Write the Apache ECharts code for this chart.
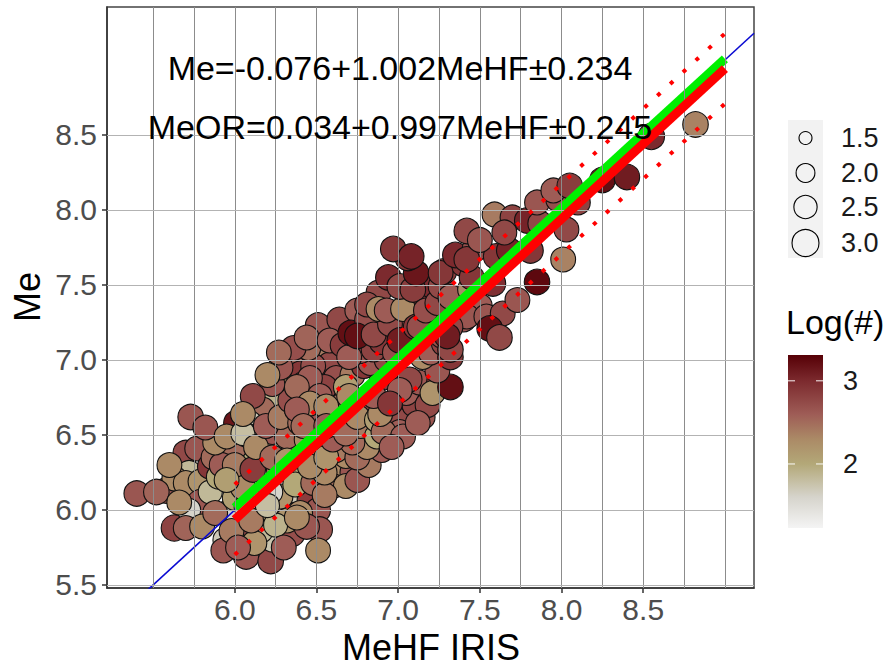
<!DOCTYPE html>
<html><head><meta charset="utf-8">
<script src="https://cdn.jsdelivr.net/npm/echarts@6/dist/echarts.min.js"></script>
<style>html,body{margin:0;padding:0;background:#fff}#c{width:893px;height:666px}</style>
</head><body><div id="c"></div>
<script>
// ---- axis ranges / ticks ----
const xRange = [5.218, 9.178];
const yRange = [5.48, 9.353];
const xTicks = [6.0, 6.5, 7.0, 7.5, 8.0, 8.5];
const yTicks = [5.5, 6.0, 6.5, 7.0, 7.5, 8.0, 8.5];
const xGrid = [5.5, 5.75, 6.0, 6.25, 6.5, 6.75, 7.0, 7.25, 7.5, 7.75, 8.0, 8.25, 8.5, 8.75, 9.0];
const yGrid = [5.5, 6.0, 6.5, 7.0, 7.5, 8.0, 8.5];
// ---- fits: [intercept, slope, sd] ----
const fitMe = [-0.076, 1.002, 0.234];
const fitMeOR = [0.034, 0.997, 0.245];
const fitX = [6.0, 9.0];
const eqTexts = ['Me=-0.076+1.002MeHF\u00b10.234', 'MeOR=0.034+0.997MeHF\u00b10.245'];
// ---- legends ----
const sizeBreaks = [1.5, 2.0, 2.5, 3.0];
const colorBreaks = [3, 2];
const colorLimits = [1.23, 3.31];
const colorStopVals = [1.23, 1.6, 2.0, 2.3, 2.6, 3.0, 3.31];
const colorStopCols = ['#f4f4f4', '#d6d4cc', '#b3a878', '#ab8a66', '#9e5c56', '#7c2a2e', '#560006'];
// ---- points: [MeHF, Me, log#, size] ----
const cloudLow = [
[5.40,6.11,2.65,2.8],[5.73,6.62,2.65,2.8],[5.58,6.13,2.65,2.8],[5.63,5.88,2.8,2.9],[5.70,6.38,2.75,2.8],
[5.77,6.41,2.65,2.7],[5.72,6.25,1.85,2.6],[5.63,6.21,2.3,2.7],[5.70,6.18,2.3,2.7],[5.79,6.19,2.2,2.7],
[5.79,6.05,2.65,2.9],[5.72,6.00,1.6,2.5],[5.70,5.88,2.55,2.7],[5.80,5.89,2.3,2.7],[5.85,6.29,2.9,2.8],
[5.93,6.47,2.3,2.7],[5.87,6.35,2.5,2.7],[6.01,6.19,2.1,2.7],[5.95,5.98,1.6,2.6],[5.94,5.80,1.7,2.6],
[5.93,5.73,2.65,2.7],[6.07,5.89,2.75,2.8],[6.07,5.69,2.65,2.8],[6.22,5.66,2.75,2.8],[6.23,5.80,1.75,2.6],
[6.16,5.86,1.85,2.6],[6.17,5.98,1.6,2.6],[6.30,5.98,1.6,2.6],[6.35,5.84,2.7,2.8],[6.40,6.11,1.7,2.6],
[6.46,6.07,2.85,2.8],[6.51,6.00,2.65,2.7],[6.52,5.87,2.65,2.8],[6.51,5.73,2.3,2.7],[6.32,5.93,2.2,2.7],
[6.40,6.25,2.0,2.7],[6.48,6.36,2.3,2.7],[6.60,6.25,2.3,2.7],[6.72,6.25,2.65,2.7],[6.68,6.36,2.3,2.7],
[5.52,6.12,2.55,2.8],[5.66,6.05,2.3,2.7],[5.60,6.30,2.3,2.7],[5.85,6.12,1.85,2.6],[5.90,6.22,2.0,2.6],
[5.98,6.35,2.65,2.8],[5.88,5.98,2.5,2.7],[6.00,6.08,2.1,2.7],[5.98,5.86,2.4,2.7],[6.12,5.78,2.2,2.7],
[6.02,5.75,2.6,2.7],[6.21,6.20,1.5,2.6],[6.30,6.20,1.6,2.6],[6.28,6.09,2.2,2.7],[6.13,6.09,1.85,2.6],
[6.15,6.00,2.0,2.6],[6.07,6.02,1.55,2.6],[6.40,5.98,2.3,2.7],[6.44,5.89,2.65,2.8],[6.60,6.16,2.5,2.7],
[6.68,6.16,2.3,2.7],[6.75,6.20,2.65,2.7],[6.82,6.30,2.4,2.7],[6.90,6.40,2.6,2.7],
[6.18,6.45,2.4,2.7],[6.26,6.43,1.8,2.7],[6.36,6.40,2.6,2.7],[6.09,6.33,2.0,2.7],[6.18,6.30,1.7,2.6],
[6.27,6.27,2.3,2.7],[6.37,6.17,2.0,2.7],[6.22,6.12,1.6,2.6],[6.05,6.15,2.3,2.7],[6.00,6.42,2.5,2.7],
[5.92,6.30,2.6,2.7],[6.48,6.18,2.5,2.7],[6.55,6.10,2.4,2.7],[6.25,5.90,1.9,2.6],[6.10,5.93,2.4,2.7],
[5.88,6.45,2.3,2.7],[5.82,6.55,2.65,2.7],[6.00,6.30,2.4,2.7],[5.95,6.20,2.1,2.7],[6.30,5.75,2.6,2.7],
[6.38,5.95,2.3,2.7],[6.20,6.03,1.8,2.6],[6.62,6.40,2.4,2.7],[6.75,6.35,2.5,2.7],[6.55,6.25,2.3,2.7],
[6.80,6.45,2.6,2.7]
];
const cloudMid = [
[6.64,6.51,2.3,2.7],[6.81,6.42,2.3,2.7],[6.88,6.62,1.9,2.7],[7.01,6.49,2.65,2.8],[6.95,6.69,2.75,2.7],
[7.09,6.80,2.3,2.7],[6.85,7.15,3.0,2.8],[6.77,7.18,3.15,2.8],[6.51,7.23,2.65,2.8],[6.56,7.09,2.4,2.7],
[6.35,7.00,2.55,2.7],[6.58,6.97,2.75,2.7],[6.40,6.91,2.9,2.7],[6.32,6.82,2.3,2.7],[6.23,6.73,1.9,2.7],
[6.17,6.67,2.5,2.7],[6.09,6.58,1.7,2.7],[6.01,6.58,3.15,2.8],[5.95,6.49,2.3,2.7],[6.07,6.50,1.55,2.6],
[6.23,6.52,2.65,2.7],[6.11,6.27,2.85,2.8],[6.32,6.49,2.5,2.7],[6.44,6.47,2.3,2.7],[6.52,6.67,2.65,2.7],
[6.60,6.75,2.3,2.7],[6.64,6.62,2.3,2.7],[6.72,6.45,2.5,2.7],[6.46,6.29,2.3,2.7],[6.56,6.35,2.2,2.7],
[6.05,6.51,1.8,2.6],[6.13,6.42,2.3,2.7],[6.23,6.35,2.5,2.7],[6.32,6.33,2.2,2.7],[6.19,6.56,2.6,2.7],
[6.28,6.62,2.4,2.7],[6.38,6.67,2.6,2.7],[6.44,6.76,2.3,2.7],[6.34,6.73,2.7,2.7],[6.40,6.58,2.5,2.7],
[6.50,6.51,2.2,2.7],[6.60,6.47,2.6,2.7],[6.77,6.56,2.4,2.7],[6.87,6.49,2.0,2.7],[6.93,6.56,2.6,2.7],
[6.23,6.84,2.65,2.7],[6.11,6.76,2.75,2.7],[6.05,6.64,2.3,2.7],[6.42,6.84,2.6,2.7],[6.48,6.96,2.7,2.7],
[6.62,6.88,2.7,2.7],[6.72,6.90,2.4,2.7],[6.66,6.70,2.5,2.7],[6.78,6.70,2.7,2.7],[6.55,6.82,2.8,2.7],
[6.90,6.88,2.85,2.7],[6.95,6.95,2.5,2.7],[6.64,7.27,2.75,2.7],[6.45,7.08,2.5,2.7],[6.75,7.33,2.6,2.7],
[6.28,6.95,2.65,2.7],[6.36,7.08,2.7,2.7],[6.27,7.05,2.5,2.7],[6.44,7.15,2.55,2.7],[6.20,6.90,2.3,2.7],
[6.68,6.82,2.1,2.7],[6.58,7.13,2.6,2.7],[6.46,6.88,2.6,2.7],[6.38,6.82,2.5,2.7],[6.52,6.76,2.6,2.7],
[6.46,6.71,2.3,2.7],[6.56,6.69,2.3,2.7],[6.70,6.76,2.3,2.7],[6.38,6.67,2.6,2.7],[6.42,6.56,2.5,2.7],
[6.56,6.56,2.6,2.7],[6.68,6.51,2.5,2.7],[6.75,6.62,2.3,2.7],[6.87,6.60,2.1,2.7],[6.79,6.96,2.9,2.7],
[6.99,6.60,2.75,2.7],[7.01,6.52,2.6,2.7],[6.91,6.52,2.5,2.7],[6.89,6.64,2.3,2.7],[6.85,6.76,2.6,2.7],
[7.15,6.62,2.65,2.7],[7.10,6.70,2.8,2.7],[7.03,6.49,2.6,2.7],[7.05,6.78,2.6,2.7],[7.13,6.85,2.65,2.7],
[7.18,6.70,2.75,2.7],[7.25,6.85,2.85,2.7],[7.12,6.58,2.6,2.7],[6.96,6.42,2.6,2.7],
[7.07,6.87,2.75,2.7],[7.01,6.80,2.6,2.7],[6.95,6.71,2.9,2.7],[7.21,6.78,2.2,2.7],[7.32,6.82,3.2,2.8],
[7.24,6.93,2.65,2.7],[6.83,6.98,2.65,2.7],[6.93,7.00,2.75,2.7],[6.77,7.06,2.7,2.7],[6.85,7.07,2.8,2.7]
];
const cloudHigh = [
[6.66,7.10,2.85,2.7],[6.70,7.02,2.6,2.7],[6.90,7.12,2.9,2.7],[6.98,7.05,2.7,2.7],[7.05,7.28,2.8,2.7],
[6.88,7.45,2.75,2.7],[6.94,7.55,3.0,2.8],[7.15,7.40,2.9,2.7],[7.20,7.50,3.0,2.8],
[6.71,7.18,3.2,2.8],[6.81,7.27,2.7,2.7],[6.75,7.16,3.2,2.8],[6.85,7.17,2.75,2.7],[6.95,7.24,2.75,2.7],
[6.81,7.37,2.75,2.7],[6.88,7.34,2.3,2.7],[6.93,7.33,2.6,2.7],[7.03,7.34,2.3,2.7],[7.01,7.49,2.75,2.8],
[7.09,7.47,2.85,2.8],[7.11,7.58,3.15,2.8],[7.06,7.68,2.9,2.8],[6.97,7.74,2.9,2.8],[7.08,7.69,3.05,2.8],
[7.01,7.13,3.1,2.8],[7.11,7.22,2.9,2.8],[7.19,7.16,2.85,2.8],[7.15,7.02,2.3,2.7],[7.20,7.05,2.6,2.7],
[7.28,7.11,2.8,2.7],[7.32,7.02,2.9,2.8],[7.13,7.22,2.7,2.7],[7.27,7.16,2.7,2.7],[7.32,7.07,2.75,2.8],
[7.17,7.33,2.7,2.7],[7.24,7.38,2.75,2.7],[7.26,7.49,2.75,2.7],[7.28,7.59,2.85,2.8],[7.40,7.64,2.9,2.8],
[7.26,7.58,2.9,2.7],[7.32,7.42,2.6,2.7],[7.44,7.47,2.3,2.7],[7.40,7.27,2.65,2.7],[7.48,7.36,2.6,2.7],
[7.50,7.36,2.6,2.7],[7.42,7.29,2.65,2.7],[7.54,7.29,2.65,2.7],[7.32,7.22,2.75,2.7],[7.30,7.16,3.1,2.8],
[7.35,7.70,3.0,2.8],[7.45,7.55,2.9,2.7],
[7.47,7.74,2.7,2.8],[7.42,7.67,2.9,2.8],[7.58,7.51,2.95,2.8],[7.64,7.31,2.75,2.7],[7.56,7.21,3.2,2.8],
[7.62,7.15,2.75,2.8],[7.73,7.40,2.65,2.7],[7.85,7.52,3.25,2.8],[8.01,7.67,2.35,2.7],[7.60,7.69,2.9,2.8],
[7.68,7.73,3.05,2.8],[7.81,7.73,2.9,2.8],[7.42,7.86,2.75,2.8],[7.50,7.80,2.65,2.7],[7.59,7.97,2.4,2.7],
[7.70,7.95,2.8,2.7],[7.65,7.85,2.75,2.7],
[7.79,7.93,3.05,2.8],[7.87,7.91,2.75,2.7],[8.03,7.87,2.75,2.7],[7.85,8.05,2.65,2.7],[7.98,8.07,2.7,2.7],
[7.95,8.13,2.6,2.7],[8.10,8.05,2.8,2.7],[8.05,8.16,2.85,2.8],[8.25,8.20,3.2,2.8],[8.40,8.22,3.1,2.8],
[8.55,8.49,3.0,2.9],[8.82,8.57,2.35,2.8]
];
const allPoints = cloudLow.concat(cloudMid, cloudHigh);

// ---- helpers ----
function hexToRgb(h){return [parseInt(h.slice(1,3),16),parseInt(h.slice(3,5),16),parseInt(h.slice(5,7),16)];}
function colorOf(v){
  if (v <= colorStopVals[0]) return colorStopCols[0];
  for (let i=1;i<colorStopVals.length;i++){
    if (v <= colorStopVals[i]){
      const t=(v-colorStopVals[i-1])/(colorStopVals[i]-colorStopVals[i-1]);
      const a=hexToRgb(colorStopCols[i-1]), b=hexToRgb(colorStopCols[i]);
      return 'rgb('+a.map((c,k)=>Math.round(c+(b[k]-c)*t)).join(',')+')';
    }
  }
  return colorStopCols[colorStopCols.length-1];
}
function sizePx(s){return Math.sqrt(Math.max(20, 373*s-391));}
function fitLine(f, off){return fitX.map(x=>[x, f[0]+f[1]*x+off]);}

const FONT = '"Liberation Sans", Arial, Helvetica, sans-serif';
const chart = echarts.init(document.getElementById('c'), null, {renderer:'svg'});

const G = [];
// equations
G.push({type:'text', x:400, y:68, style:{text:eqTexts[0], fontSize:34, fontFamily:FONT, fill:'#000', align:'center', verticalAlign:'middle'}, z:100});
G.push({type:'text', x:400, y:127, style:{text:eqTexts[1], fontSize:34, fontFamily:FONT, fill:'#000', align:'center', verticalAlign:'middle'}, z:100});
// axis titles
G.push({type:'text', x:431, y:647, style:{text:'MeHF IRIS', fontSize:36, fontFamily:FONT, fill:'#000', align:'center', verticalAlign:'middle'}});
G.push({type:'text', x:27, y:297, rotation:Math.PI/2, style:{text:'Me', fontSize:36, fontFamily:FONT, fill:'#000', align:'center', verticalAlign:'middle'}});
// size legend
G.push({type:'rect', shape:{x:788, y:120, width:35, height:138}, style:{fill:'#f2f2f2'}});
const sizeY = [138, 173, 207, 243];
sizeBreaks.forEach((s,i)=>{
  G.push({type:'circle', shape:{cx:805.5, cy:sizeY[i], r:sizePx(s)/2}, style:{fill:'none', stroke:'#000', lineWidth:1.1}});
  G.push({type:'text', x:841, y:sizeY[i], style:{text:s.toFixed(1), fontSize:27, fontFamily:FONT, fill:'#1a1a1a', align:'left', verticalAlign:'middle'}});
});
// colour bar
const cbTop = 355, cbH = 173, cbX = 788, cbW = 35;
const cbY = v => cbTop + (colorLimits[1]-v)/(colorLimits[1]-colorLimits[0])*cbH;
G.push({type:'text', x:786, y:322, style:{text:'Log(#)', fontSize:34, fontFamily:FONT, fill:'#000', align:'left', verticalAlign:'middle'}});
G.push({type:'rect', shape:{x:cbX, y:cbTop, width:cbW, height:cbH}, style:{fill:new echarts.graphic.LinearGradient(0,0,0,1,
  colorStopVals.map((v,i)=>({offset:(colorLimits[1]-v)/(colorLimits[1]-colorLimits[0]), color:colorStopCols[i]})).reverse())}});
colorBreaks.forEach(v=>{
  const y = cbY(v);
  G.push({type:'line', shape:{x1:cbX, y1:y, x2:cbX+7, y2:y}, style:{stroke:'#fff', lineWidth:1.2, opacity:0.8}});
  G.push({type:'line', shape:{x1:cbX+cbW-7, y1:y, x2:cbX+cbW, y2:y}, style:{stroke:'#fff', lineWidth:1.2, opacity:0.8}});
  G.push({type:'text', x:843, y:y, style:{text:String(v), fontSize:27, fontFamily:FONT, fill:'#1a1a1a', align:'left', verticalAlign:'middle'}});
});

const option = {
  animation:false,
  backgroundColor:'#fff',
  grid:{left:107, right:139, top:7, bottom:78, show:true, borderColor:'#444', borderWidth:1.5, backgroundColor:'#fff'},
  xAxis:{type:'value', min:xRange[0], max:xRange[1],
    axisLine:{show:true, onZero:false, lineStyle:{color:'#333', width:1.5}},
    axisTick:{show:true, customValues:xTicks, length:5, lineStyle:{color:'#333', width:1.5}},
    axisLabel:{customValues:xTicks, formatter:v=>v.toFixed(1), fontSize:30, fontFamily:FONT, color:'#4d4d4d', margin:6},
    splitLine:{show:false}},
  yAxis:{type:'value', min:yRange[0], max:yRange[1],
    axisLine:{show:true, onZero:false, lineStyle:{color:'#333', width:1.5}},
    axisTick:{show:true, customValues:yTicks, length:5, lineStyle:{color:'#333', width:1.5}},
    axisLabel:{customValues:yTicks, formatter:v=>v.toFixed(1), fontSize:30, fontFamily:FONT, color:'#4d4d4d', margin:10},
    splitLine:{show:false}},
  series:[
    {type:'scatter', data:[], z:1, silent:true,
      markLine:{silent:true, symbol:'none', animation:false, label:{show:false},
        data: xGrid.map(v=>({xAxis:v, lineStyle:{color:'#8c8c8c', width:1, type:'solid'}}))
          .concat(yGrid.map(v=>({yAxis:v, lineStyle:{color:'#b3b3b3', width:1, type:'solid'}})))}},
    {type:'scatter', z:2, data:allPoints,
      symbolSize:val=>sizePx(val[3]),
      itemStyle:{color:p=>colorOf(p.value[2]), borderColor:'#111', borderWidth:1.1, opacity:1}},
    {type:'line', z:3, data:[[xRange[0],xRange[0]],[xRange[1],xRange[1]]], showSymbol:false, clip:true,
      lineStyle:{color:'#0a0ad2', width:1.6}},
    {type:'line', z:4, data:fitLine(fitMeOR,0), showSymbol:false, lineStyle:{color:'#00f000', width:9, cap:'butt'}},
    {type:'line', z:5, data:fitLine(fitMe,0), showSymbol:false, lineStyle:{color:'#ff0000', width:9, cap:'butt'}},
    {type:'line', z:6, data:fitLine(fitMe,fitMe[2]), showSymbol:false, lineStyle:{color:'#ff0000', width:4, type:[4,13.4], cap:'butt'}},
    {type:'line', z:6, data:fitLine(fitMe,-fitMe[2]), showSymbol:false, lineStyle:{color:'#ff0000', width:4, type:[4,13.4], cap:'butt'}}
  ],
  graphic:G
};
chart.setOption(option);
</script></body></html>
